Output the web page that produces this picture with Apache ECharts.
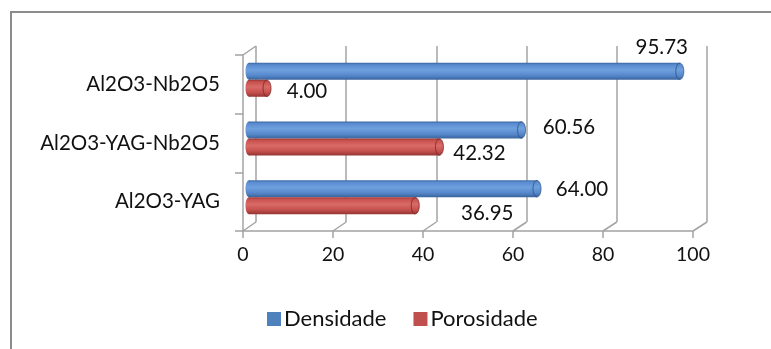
<!DOCTYPE html>
<html>
<head>
<meta charset="utf-8">
<script src="https://cdn.jsdelivr.net/npm/echarts@6/dist/echarts.min.js"></script>
<style>
  html, body { margin: 0; padding: 0; background: #ffffff; }
  #chart { width: 771px; height: 349px; }
</style>
</head>
<body>
<div id="chart"></div>
<script>
// Samples, bottom to top
const categories = ['Al2O3-YAG', 'Al2O3-YAG-Nb2O5', 'Al2O3-Nb2O5'];
// Values per sample (%)
const densidade = [64.00, 60.56, 95.73];
const porosidade = [36.95, 42.32, 4.00];
const seriesNames = ['Densidade', 'Porosidade'];
// Value-axis ticks
const xTicks = [0, 20, 40, 60, 80, 100];

const FONT = 'Lato, "Open Sans", sans-serif';
const TEXT = '#111111';
const GRID_LINE = '#a3a3a3';

// Plot boxes: back wall, front axes, and the mid-depth plane the cylinders sit in
const backBox  = { left: 256, top: 46,   width: 451, height: 176 };
const frontBox = { left: 243, top: 55,   width: 450, height: 176 };
const barBox   = { left: 249, top: 50.5, width: 450, height: 176 };

const BAR_H = 17;

// Label placement relative to each cylinder's end, [dx, dy] per series / category
const labelShift = [
  [[45, 0.5], [47.5, -3], [-18, -24]],
  [[72, 7.5], [40, 6], [40, 3.5]]
];

const palettes = [
  { stops: ['#3a67a2', '#5a8bd0', '#6fa0dd', '#5687cb', '#39649c'], rim: 'rgba(40,80,130,0.55)', flat: '#4f81bd' },
  { stops: ['#9a3734', '#c8514e', '#d96b67', '#c4504d', '#953431'], rim: 'rgba(120,35,32,0.55)', flat: '#c0504d' }
];

function grad(stops) {
  return new echarts.graphic.LinearGradient(0, 0, 0, 1, [
    { offset: 0, color: stops[0] },
    { offset: 0.12, color: stops[1] },
    { offset: 0.42, color: stops[2] },
    { offset: 0.75, color: stops[3] },
    { offset: 1, color: stops[4] }
  ]);
}

function cylinderRenderer(sIdx) {
  const pal = palettes[sIdx];
  return function (params, api) {
    const v = api.value(0);
    const c = api.value(1);
    const p0 = api.coord([0, c]);
    const p1 = api.coord([v, c]);
    const yTop = sIdx === 0 ? p0[1] - BAR_H : p0[1];
    const cy = yTop + BAR_H / 2;
    const fill = grad(pal.stops);
    const sh = labelShift[sIdx][c];
    return {
      type: 'group',
      children: [
        { type: 'ellipse', shape: { cx: p0[0], cy: cy, rx: 3.5, ry: BAR_H / 2 }, style: { fill: fill } },
        { type: 'rect', shape: { x: p0[0], y: yTop, width: p1[0] - p0[0], height: BAR_H }, style: { fill: fill } },
        { type: 'ellipse', shape: { cx: p1[0], cy: cy, rx: 4, ry: BAR_H / 2 - 0.3 },
          style: { fill: grad(pal.stops), stroke: pal.rim, lineWidth: 0.8 } },
        { type: 'text', x: p1[0] + sh[0], y: cy + sh[1],
          style: { text: v.toFixed(2), fill: TEXT, font: '20.5px ' + FONT, align: 'center', verticalAlign: 'middle' } }
      ]
    };
  };
}

const chart = echarts.init(document.getElementById('chart'), null, { renderer: 'canvas' });

const option = {
  animation: false,
  backgroundColor: '#ffffff',
  grid: [
    Object.assign({}, backBox),
    Object.assign({}, frontBox),
    Object.assign({}, barBox)
  ],
  xAxis: [
    {
      gridIndex: 0, type: 'value', min: xTicks[0], max: xTicks[xTicks.length - 1], interval: xTicks[1] - xTicks[0],
      axisLine: { show: false }, axisTick: { show: false }, axisLabel: { show: false },
      splitLine: { show: true, lineStyle: { color: GRID_LINE, width: 1.5 } }
    },
    {
      gridIndex: 1, type: 'value', min: xTicks[0], max: xTicks[xTicks.length - 1], interval: xTicks[1] - xTicks[0],
      axisLine: { show: true, onZero: false, lineStyle: { color: GRID_LINE, width: 1.5 } },
      axisTick: { show: true, length: 7, lineStyle: { color: GRID_LINE, width: 1.5 } },
      axisLabel: { show: true, margin: 14, color: TEXT, fontSize: 19.5, fontFamily: FONT },
      splitLine: { show: false }
    },
    {
      gridIndex: 2, type: 'value', min: xTicks[0], max: xTicks[xTicks.length - 1], interval: xTicks[1] - xTicks[0],
      show: false
    }
  ],
  yAxis: [
    { gridIndex: 0, type: 'category', data: categories, show: false },
    {
      gridIndex: 1, type: 'category', data: categories,
      axisLine: { show: true, lineStyle: { color: GRID_LINE, width: 1.5 } },
      axisTick: { show: true, length: 8, lineStyle: { color: GRID_LINE, width: 1.5 } },
      axisLabel: { margin: 23, color: TEXT, fontSize: 20.5, fontFamily: FONT },
      splitLine: { show: false }
    },
    { gridIndex: 2, type: 'category', data: categories, show: false }
  ],
  legend: {
    left: 267, top: 308, padding: 0,
    itemWidth: 14, itemHeight: 14, itemGap: 27,
    icon: 'rect',
    textStyle: { color: TEXT, fontSize: 22, fontFamily: FONT, padding: [0, 0, 0, -2] },
    data: seriesNames
  },
  series: [
    {
      name: seriesNames[0], type: 'custom', xAxisIndex: 2, yAxisIndex: 2,
      itemStyle: { color: palettes[0].flat },
      encode: { x: 0, y: 1 },
      data: densidade.map((v, i) => [v, i]),
      renderItem: cylinderRenderer(0), z: 5
    },
    {
      name: seriesNames[1], type: 'custom', xAxisIndex: 2, yAxisIndex: 2,
      itemStyle: { color: palettes[1].flat },
      encode: { x: 0, y: 1 },
      data: porosidade.map((v, i) => [v, i]),
      renderItem: cylinderRenderer(1), z: 5
    }
  ]
};

chart.setOption(option);

// Floor connectors between front axis ticks and back wall, plus the outer frame
function drawFrame() {
  const els = [];
  const frontY = frontBox.top + frontBox.height;
  const backY = backBox.top + backBox.height;
  xTicks.forEach(t => {
    const fx = chart.convertToPixel({ xAxisIndex: 1 }, t);
    const bx = chart.convertToPixel({ xAxisIndex: 0 }, t);
    els.push({ type: 'line', shape: { x1: fx, y1: frontY, x2: bx, y2: backY },
      style: { stroke: GRID_LINE, lineWidth: 1.5 }, z: 1 });
  });
  els.push({ type: 'line',
    shape: { x1: frontBox.left, y1: frontBox.top, x2: backBox.left, y2: backBox.top },
    style: { stroke: GRID_LINE, lineWidth: 1.5 }, z: 1 });
  els.push({ type: 'rect', shape: { x: 11, y: 12, width: 900, height: 500 },
    style: { fill: null, stroke: '#8c8c8c', lineWidth: 2 }, z: 0 });
  chart.setOption({ graphic: els });
}
drawFrame();
</script>
</body>
</html>
